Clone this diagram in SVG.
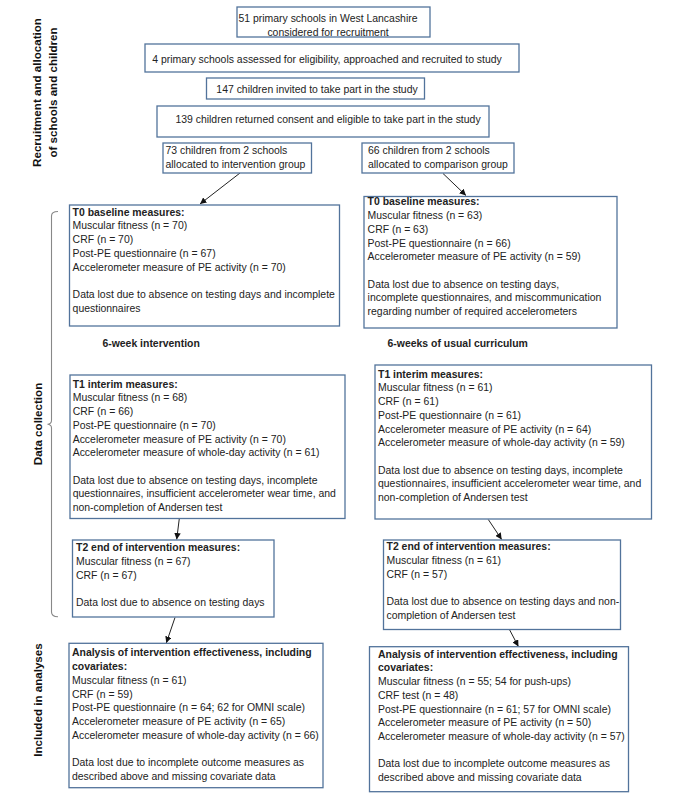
<svg xmlns="http://www.w3.org/2000/svg" width="676" height="800" viewBox="0 0 676 800">
<defs>
<style>
.bx{fill:#fff;stroke:#52739b;stroke-width:1.3}
.t{font-family:"Liberation Sans",Arial,sans-serif;font-size:10.45px;fill:#222}
.b{font-weight:bold}
.side{font-family:"Liberation Sans",Arial,sans-serif;font-size:11.6px;font-weight:bold;fill:#111}
.c{fill:none;stroke:#222;stroke-width:1}
.br{fill:none;stroke:#888;stroke-width:1.1}
</style>
<marker id="ah" viewBox="0 0 10 10" refX="10" refY="5" markerWidth="6.5" markerHeight="6.5" orient="auto" markerUnits="userSpaceOnUse">
<path d="M0,0 L10,5 L0,10 z" fill="#111"/>
</marker>
</defs>
<rect width="676" height="800" fill="#fff"/>

<g id="labels">
<text class="side" transform="translate(41,92.5) rotate(-90)" text-anchor="middle">Recruitment and allocation</text>
<text class="side" transform="translate(57,92.5) rotate(-90)" text-anchor="middle">of schools and children</text>
<text class="side" transform="translate(42,424) rotate(-90)" text-anchor="middle">Data collection</text>
<text class="side" transform="translate(42,700) rotate(-90)" text-anchor="middle">Included in analyses</text>
<path class="br" d="M58,211.5 Q51.5,211.5 51.5,216 L51.5,420.5 Q51.5,424 47.5,424.3 Q51.5,424.6 51.5,428 L51.5,612 Q51.5,616.7 58,616.7"/>
</g>

<g id="connectors">
<line class="c" x1="240" y1="173" x2="200" y2="204" marker-end="url(#ah)"/>
<line class="c" x1="443" y1="173.5" x2="466" y2="195.5" marker-end="url(#ah)"/>
<line class="c" x1="179.3" y1="518.5" x2="176.7" y2="539.5" marker-end="url(#ah)"/>
<line class="c" x1="488.3" y1="519.5" x2="501.7" y2="539.5" marker-end="url(#ah)"/>
<line class="c" x1="175" y1="617.5" x2="166.3" y2="643" marker-end="url(#ah)"/>
<line class="c" x1="509.7" y1="630" x2="518.4" y2="646.5" marker-end="url(#ah)"/>
</g>

<g id="n1">
<rect class="bx" x="237" y="7" width="193" height="30"/>
<text class="t" x="328" y="22" text-anchor="middle">51 primary schools in West Lancashire</text>
<text class="t" x="328" y="35.5" text-anchor="middle">considered for recruitment</text>
</g>
<g id="n2">
<rect class="bx" x="145" y="44" width="374" height="28"/>
<text class="t" x="327" y="62.5" text-anchor="middle">4 primary schools assessed for eligibility, approached and recruited to study</text>
</g>
<g id="n3">
<rect class="bx" x="206.5" y="78" width="218" height="21"/>
<text class="t" x="317" y="92.5" text-anchor="middle">147 children invited to take part in the study</text>
</g>
<g id="n4">
<rect class="bx" x="157" y="106" width="332" height="31"/>
<text class="t" x="328" y="123" text-anchor="middle">139 children returned consent and eligible to take part in the study</text>
</g>
<g id="n5">
<rect class="bx" x="163" y="143" width="148.5" height="30"/>
<text class="t" x="165.5" y="154">73 children from 2 schools</text>
<text class="t" x="165.5" y="167.7">allocated to intervention group</text>
</g>
<g id="n6">
<rect class="bx" x="362" y="143" width="152" height="30"/>
<text class="t" x="368" y="154">66 children from 2 schools</text>
<text class="t" x="368" y="167.7">allocated to comparison group</text>
</g>

<g id="t0-left">
<rect class="bx" x="69.5" y="205" width="270" height="121"/>
<text class="t b" x="72.6" y="215.7">T0 baseline measures:</text>
<text class="t" x="72.6" y="229.4">Muscular fitness (n = 70)</text>
<text class="t" x="72.6" y="243.1">CRF (n = 70)</text>
<text class="t" x="72.6" y="256.8">Post-PE questionnaire (n = 67)</text>
<text class="t" x="72.6" y="270.5">Accelerometer measure of PE activity (n = 70)</text>
<text class="t" x="72.6" y="297.9">Data lost due to absence on testing days and incomplete</text>
<text class="t" x="72.6" y="311.6">questionnaires</text>
</g>
<g id="t0-right">
<rect class="bx" x="364" y="196.5" width="253" height="131.5"/>
<text class="t b" x="367.6" y="205.4">T0 baseline measures:</text>
<text class="t" x="367.6" y="219.1">Muscular fitness (n = 63)</text>
<text class="t" x="367.6" y="232.8">CRF (n = 63)</text>
<text class="t" x="367.6" y="246.5">Post-PE questionnaire (n = 66)</text>
<text class="t" x="367.6" y="260.2">Accelerometer measure of PE activity (n = 59)</text>
<text class="t" x="367.6" y="287.6">Data lost due to absence on testing days,</text>
<text class="t" x="367.6" y="301.3">incomplete questionnaires, and miscommunication</text>
<text class="t" x="367.6" y="315">regarding number of required accelerometers</text>
</g>

<g id="phase-labels">
<text class="t b" x="102.4" y="347">6-week intervention</text>
<text class="t b" x="387.5" y="347">6-weeks of usual curriculum</text>
</g>

<g id="t1-left">
<rect class="bx" x="70" y="375" width="275" height="143.5"/>
<text class="t b" x="72.7" y="387.7">T1 interim measures:</text>
<text class="t" x="72.7" y="401.4">Muscular fitness (n = 68)</text>
<text class="t" x="72.7" y="415.1">CRF (n = 66)</text>
<text class="t" x="72.7" y="428.8">Post-PE questionnaire (n = 70)</text>
<text class="t" x="72.7" y="442.5">Accelerometer measure of PE activity (n = 70)</text>
<text class="t" x="72.7" y="456.2">Accelerometer measure of whole-day activity (n = 61)</text>
<text class="t" x="72.7" y="483.6">Data lost due to absence on testing days, incomplete</text>
<text class="t" x="72.7" y="497.3">questionnaires, insufficient accelerometer wear time, and</text>
<text class="t" x="72.7" y="511">non-completion of Andersen test</text>
</g>
<g id="t1-right">
<rect class="bx" x="375" y="365" width="276.5" height="154"/>
<text class="t b" x="378" y="377.7">T1 interim measures:</text>
<text class="t" x="378" y="391.4">Muscular fitness (n = 61)</text>
<text class="t" x="378" y="405.1">CRF (n = 61)</text>
<text class="t" x="378" y="418.8">Post-PE questionnaire (n = 61)</text>
<text class="t" x="378" y="432.5">Accelerometer measure of PE activity (n = 64)</text>
<text class="t" x="378" y="446.2">Accelerometer measure of whole-day activity (n = 59)</text>
<text class="t" x="378" y="473.6">Data lost due to absence on testing days, incomplete</text>
<text class="t" x="378" y="487.3">questionnaires, insufficient accelerometer wear time, and</text>
<text class="t" x="378" y="501">non-completion of Andersen test</text>
</g>

<g id="t2-left">
<rect class="bx" x="72.5" y="540" width="201.5" height="77"/>
<text class="t b" x="76" y="551.4">T2 end of intervention measures:</text>
<text class="t" x="76" y="565.1">Muscular fitness (n = 67)</text>
<text class="t" x="76" y="578.8">CRF (n = 67)</text>
<text class="t" x="76" y="606.2">Data lost due to absence on testing days</text>
</g>
<g id="t2-right">
<rect class="bx" x="383.5" y="540" width="237" height="89.5"/>
<text class="t b" x="386.5" y="550.4">T2 end of intervention measures:</text>
<text class="t" x="386.5" y="564.1">Muscular fitness (n = 61)</text>
<text class="t" x="386.5" y="577.8">CRF (n = 57)</text>
<text class="t" x="386.5" y="605.2">Data lost due to absence on testing days and non-</text>
<text class="t" x="386.5" y="618.9">completion of Andersen test</text>
</g>

<g id="analysis-left">
<rect class="bx" x="69" y="643.3" width="254" height="144.4"/>
<text class="t b" x="72" y="656.4">Analysis of intervention effectiveness, including</text>
<text class="t b" x="72" y="670.1">covariates:</text>
<text class="t" x="72" y="683.8">Muscular fitness (n = 61)</text>
<text class="t" x="72" y="697.5">CRF (n = 59)</text>
<text class="t" x="72" y="711.2">Post-PE questionnaire (n = 64; 62 for OMNI scale)</text>
<text class="t" x="72" y="724.9">Accelerometer measure of PE activity (n = 65)</text>
<text class="t" x="72" y="738.6">Accelerometer measure of whole-day activity (n = 66)</text>
<text class="t" x="72" y="766">Data lost due to incomplete outcome measures as</text>
<text class="t" x="72" y="779.7">described above and missing covariate data</text>
</g>
<g id="analysis-right">
<rect class="bx" x="369.5" y="646.7" width="259" height="145"/>
<text class="t b" x="378" y="657.7">Analysis of intervention effectiveness, including</text>
<text class="t b" x="378" y="671.4">covariates:</text>
<text class="t" x="378" y="685.1">Muscular fitness (n = 55; 54 for push-ups)</text>
<text class="t" x="378" y="698.8">CRF test (n = 48)</text>
<text class="t" x="378" y="712.5">Post-PE questionnaire (n = 61; 57 for OMNI scale)</text>
<text class="t" x="378" y="726.2">Accelerometer measure of PE activity (n = 50)</text>
<text class="t" x="378" y="739.9">Accelerometer measure of whole-day activity (n = 57)</text>
<text class="t" x="378" y="767.3">Data lost due to incomplete outcome measures as</text>
<text class="t" x="378" y="781">described above and missing covariate data</text>
</g>
</svg>
